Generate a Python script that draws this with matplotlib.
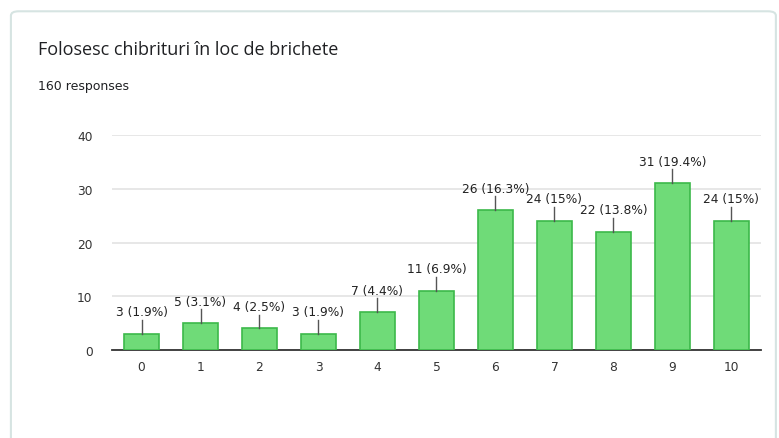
import matplotlib.pyplot as plt
from matplotlib.patches import FancyBboxPatch

# Survey answers (scale 0..10) and counts
scores = ["0", "1", "2", "3", "4", "5", "6", "7", "8", "9", "10"]
counts = [3, 5, 4, 3, 7, 11, 26, 24, 22, 31, 24]
percents = ["1.9", "3.1", "2.5", "1.9", "4.4", "6.9", "16.3", "15", "13.8", "19.4", "15"]
total = 160

fig = plt.figure(figsize=(7.79, 4.39), dpi=100)

# card background, kept behind the axes
card = FancyBboxPatch((0.014, -0.05), 0.982, 1.022, boxstyle="round,pad=0,rounding_size=0.01",
                      transform=fig.transFigure, facecolor="white", edgecolor="#d6e4e2",
                      linewidth=1.5, zorder=-10)
fig.patches.append(card)

fig.text(0.049, 0.886, "Folosesc chibrituri în loc de brichete", fontsize=13,
         color="#202124", family="Open Sans", va="center")
fig.text(0.049, 0.804, "%d responses" % total, fontsize=9, color="#202124", va="center")

ax = fig.add_axes([0.1438, 0.2005, 0.833, 0.4895])
ax.set_zorder(5)
ax.patch.set_visible(False)
x = range(len(scores))
ax.bar(x, counts, width=0.6, color="#6fdb78", edgecolor="#3cb94a", linewidth=1.2, zorder=3)

for i, c in enumerate(counts):
    ax.plot([i, i], [c, c + 2.6], color="#555555", linewidth=1, zorder=4)
    ax.text(i, c + 2.9, "%d (%s%%)" % (c, percents[i]), ha="center", va="bottom",
            fontsize=8.8, color="#222222", zorder=5)

ax.set_xlim(-0.5, len(scores) - 0.5)
ax.set_ylim(0, 40)
ax.set_yticks([0, 10, 20, 30, 40])
ax.set_xticks(list(x))
ax.set_xticklabels(scores)
ax.yaxis.grid(True, color="#e3e3e3", linewidth=1.2, zorder=0)
ax.tick_params(length=0, labelsize=8.8, colors="#333333")
ax.tick_params(axis="y", pad=14)
ax.tick_params(axis="x", pad=7)
for s in ["top", "right", "left"]:
    ax.spines[s].set_visible(False)
ax.spines["bottom"].set_color("#333333")
ax.spines["bottom"].set_linewidth(1.3)

plt.savefig("out.png", dpi=100)
